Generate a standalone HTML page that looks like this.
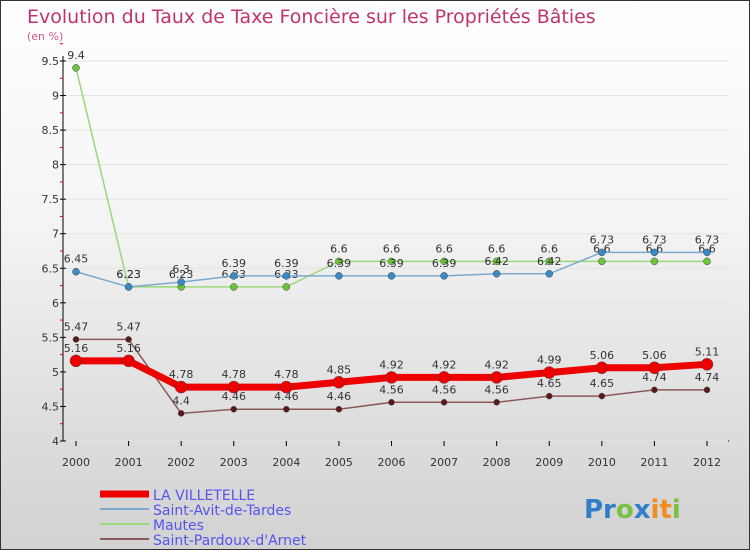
<!DOCTYPE html>
<html><head><meta charset="utf-8"><style>
body{margin:0;}
#c{position:relative;width:748px;height:548px;border:1px solid #333;background:linear-gradient(#ffffff 0%,#f4f4f4 40%,#dcdcdc 80%,#d2d2d2 100%);font-family:"DejaVu Sans","Liberation Sans",sans-serif;overflow:hidden}
svg text{font-family:"DejaVu Sans","Liberation Sans",sans-serif}
</style></head><body>
<div id="c">
<svg id="s" width="748" height="548">
<text x="26" y="22" font-size="19" fill="#c0336b">Evolution du Taux de Taxe Foncière sur les Propriétés Bâties</text>
<text x="26" y="39" font-size="11" fill="#d0588a">(en %)</text>
<g id="plot"></g>
<g id="legend"></g>
<text x="583" y="517" font-size="26" font-weight="bold"><tspan fill="#2f7fc8">Pr</tspan><tspan fill="#7ac143">o</tspan><tspan fill="#2f7fc8">x</tspan><tspan fill="#f28c1e">it</tspan><tspan fill="#7ac143">i</tspan></text>
</svg></div>
<script>
const years=[2000,2001,2002,2003,2004,2005,2006,2007,2008,2009,2010,2011,2012];
const yTicks=[4,4.5,5,5.5,6,6.5,7,7.5,8,8.5,9,9.5];
const yTickLabels=["4","4.5","5","5.5","6","6.5","7","7.5","8","8.5","9","9.5"];
const villetelle=[5.16,5.16,4.78,4.78,4.78,4.85,4.92,4.92,4.92,4.99,5.06,5.06,5.11];
const saintAvit=[6.45,6.23,6.3,6.39,6.39,6.39,6.39,6.39,6.42,6.42,6.73,6.73,6.73];
const mautes=[9.4,6.23,6.23,6.23,6.23,6.6,6.6,6.6,6.6,6.6,6.6,6.6,6.6];
const saintPardoux=[5.47,5.47,4.4,4.46,4.46,4.46,4.56,4.56,4.56,4.65,4.65,4.74,4.74];
const names=["LA VILLETELLE","Saint-Avit-de-Tardes","Mautes","Saint-Pardoux-d'Arnet"];
const NS="http://www.w3.org/2000/svg";
const X=i=>75+i*(706-75)/(years.length-1);
const Y=v=>440-(v-4)*(380/5.5);
const g=document.getElementById('plot');
function el(t,a,p){const e=document.createElementNS(NS,t);for(const k in a)e.setAttribute(k,a[k]);(p||g).appendChild(e);return e;}
let e;
e=el('line',{x1:62,y1:55,x2:62,y2:440,stroke:'#000'});


e=el('line',{x1:62,y1:440,x2:728,y2:440,stroke:'#000'});


yTicks.forEach((v,i)=>{
 e=el('line',{x1:62,x2:727,y1:Y(v),y2:Y(v),stroke:'#e4e4e4','stroke-width':1});
 
 
 el('line',{x1:59,x2:65,y1:Y(v),y2:Y(v),stroke:'#000'});
 el('line',{x1:59,x2:62,y1:Y(v+0.25),y2:Y(v+0.25),stroke:'#e00'});
 e=el('text',{x:58,y:Y(v)+4,'text-anchor':'end','font-size':11,fill:'#333'});
 e.textContent=yTickLabels[i];
 
 
});
years.forEach((y,i)=>{
 el('line',{x1:X(i),x2:X(i),y1:440,y2:445,stroke:'#000'});
 e=el('text',{x:X(i),y:465,'text-anchor':'middle','font-size':11,fill:'#333'});
 e.textContent=y;
 
 
});
const series=[
 {d:saintPardoux,c:'#8a5a5a',m:'#5a1a1a',w:1.5,r:3,n:'saint-pardoux'},
 {d:mautes,c:'#9ad77a',m:'#6cc43c',w:1.5,r:3.5,n:'mautes'},
 {d:saintAvit,c:'#7aaad0',m:'#3a8ac8',w:1.5,r:3.5,n:'saint-avit'},
 {d:villetelle,c:'#ee0000',m:'#ee0000',w:7,r:6,n:'la-villetelle'}];
series.forEach(s=>{
 e=el('polyline',{points:s.d.map((v,i)=>X(i)+','+Y(v)).join(' '),fill:'none',stroke:s.c,'stroke-width':s.w});
 
 
 s.d.forEach((v,i)=>{
  e=el('circle',{cx:X(i),cy:Y(v),r:s.r,fill:s.m,stroke:'#444','stroke-width':0.5});
  
  
  e=el('text',{x:X(i),y:Y(v)-9,'text-anchor':'middle','font-size':11,fill:'#333'});
  e.textContent=String(v);
  
  
 });
});
const lg=document.getElementById('legend');
const lc=['#ee0000','#7aaad0','#9ad77a','#8a5a5a'],lw=[7,2,2,2];
names.forEach((n,i)=>{
 const y=493+i*15;
 e=el('line',{x1:99,x2:148,y1:y,y2:y,stroke:lc[i],'stroke-width':lw[i]},lg);
 
 
 e=el('text',{x:152,y:y+6,'font-size':14,fill:'#5555ee'},lg);
 e.textContent=n;
 
 
});
</script>
</body></html>
